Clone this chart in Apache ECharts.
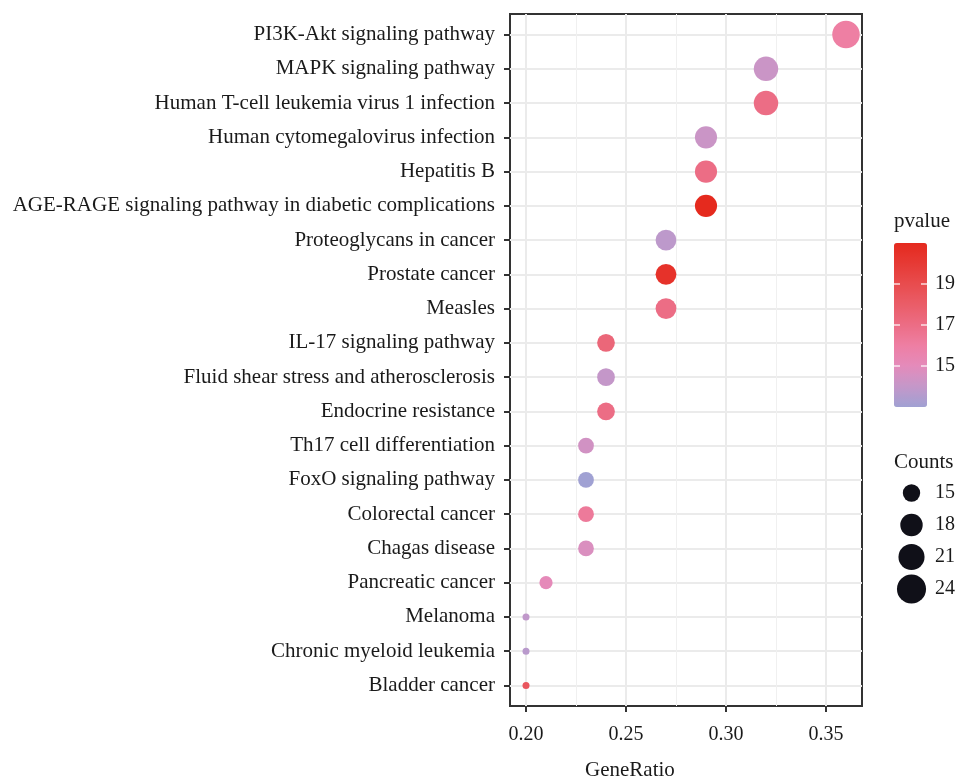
<!DOCTYPE html>
<html>
<head>
<meta charset="utf-8">
<title>KEGG enrichment dot plot</title>
<script src="https://cdn.jsdelivr.net/npm/echarts@6/dist/echarts.min.js"></script>
<style>
  html, body { margin: 0; padding: 0; background: #ffffff; }
  #chart { width: 960px; height: 779px; }
</style>
</head>
<body>
<div id="chart"></div>
<script>
// Enriched pathways, listed top to bottom
const categories = [
  'PI3K-Akt signaling pathway',
  'MAPK signaling pathway',
  'Human T-cell leukemia virus 1 infection',
  'Human cytomegalovirus infection',
  'Hepatitis B',
  'AGE-RAGE signaling pathway in diabetic complications',
  'Proteoglycans in cancer',
  'Prostate cancer',
  'Measles',
  'IL-17 signaling pathway',
  'Fluid shear stress and atherosclerosis',
  'Endocrine resistance',
  'Th17 cell differentiation',
  'FoxO signaling pathway',
  'Colorectal cancer',
  'Chagas disease',
  'Pancreatic cancer',
  'Melanoma',
  'Chronic myeloid leukemia',
  'Bladder cancer'
];
const geneRatio = [0.36, 0.32, 0.32, 0.29, 0.29, 0.29, 0.27, 0.27, 0.27, 0.24,
                   0.24, 0.24, 0.23, 0.23, 0.23, 0.23, 0.21, 0.20, 0.20, 0.20];
const counts    = [24, 21, 21, 19, 19, 19, 18, 18, 18, 16,
                   16, 16, 15, 15, 15, 15, 14, 13, 13, 13];
const pvalue    = [16.0, 14.2, 17.0, 14.2, 17.0, 21.0, 13.8, 20.5, 17.0, 17.4,
                   14.0, 17.0, 14.4, 13.0, 16.3, 14.7, 15.1, 13.9, 13.7, 18.4];

const xTicks = [0.20, 0.25, 0.30, 0.35];
const xMinorTicks = [0.225, 0.275, 0.325];
const colorTicks = [19, 17, 15];
const sizeTicks = [15, 18, 21, 24];
const colorStops = ['#a0a1d3', '#c497c9', '#e48bbb', '#ee7fa3', '#ec6d85',
                    '#ea5d68', '#e84c4e', '#e63a35', '#e52a1e'];

const FONT = "'Liberation Serif', 'DejaVu Serif', serif";
const TEXT = '#1a1a1a';
const W = 960, H = 779;

// panel frame
const panel = { left: 510, right: 862, top: 14, bottom: 706 };
// discrete y scale expanded by 0.6 of a step on each side
const yExpand = 0.6;
const step = (panel.bottom - panel.top) / (categories.length - 1 + 2 * yExpand);
const innerTop = panel.top + yExpand * step;
const innerBottom = panel.bottom - yExpand * step;
// continuous x scale expanded by 5% of the data range
const xr = Math.max(...geneRatio) - Math.min(...geneRatio);
const xMin = Math.min(...geneRatio) - 0.05 * xr;
const xMax = Math.max(...geneRatio) + 0.05 * xr;

// point diameter: area-style scaling between the smallest and largest count
const cMin = Math.min(...counts), cMax = Math.max(...counts);
function sizeOf(c) {
  return 7 + 20.5 * Math.sqrt((c - cMin) / (cMax - cMin));
}

const cLo = 13, cHi = 21;
const points = geneRatio.map((g, i) => [g, i, counts[i], pvalue[i]]);

// colour bar geometry
const bar = { left: 894, top: 243, width: 33, height: 164 };
const barY = v => bar.top + (cHi - v) / (cHi - cLo) * bar.height;

const graphics = [];
graphics.push({ type: 'text', left: 894, top: 211,
  style: { text: 'pvalue', font: '21px ' + FONT, fill: TEXT } });
colorTicks.forEach(v => {
  const y = barY(v);
  graphics.push({ type: 'line', shape: { x1: bar.left, y1: y, x2: bar.left + 6, y2: y },
    style: { stroke: '#ffffff', lineWidth: 1.2 }, z: 100 });
  graphics.push({ type: 'line', shape: { x1: bar.left + bar.width - 6, y1: y, x2: bar.left + bar.width, y2: y },
    style: { stroke: '#ffffff', lineWidth: 1.2 }, z: 100 });
  graphics.push({ type: 'text', x: 935, y: y,
    style: { text: String(v), font: '20px ' + FONT, fill: TEXT, verticalAlign: 'middle' } });
});
graphics.push({ type: 'text', left: 894, top: 452,
  style: { text: 'Counts', font: '21px ' + FONT, fill: TEXT } });
sizeTicks.forEach((c, k) => {
  const cy = 493 + k * 32;
  graphics.push({ type: 'circle', shape: { cx: 911.5, cy: cy, r: sizeOf(c) / 2 + 0.8 },
    style: { fill: '#101018' } });
  graphics.push({ type: 'text', x: 935, y: cy,
    style: { text: String(c), font: '20px ' + FONT, fill: TEXT, verticalAlign: 'middle' } });
});
graphics.push({ type: 'text', left: 585, top: 760,
  style: { text: 'GeneRatio', font: '21px ' + FONT, fill: TEXT } });

const chart = echarts.init(document.getElementById('chart'), null, { renderer: 'canvas' });

chart.setOption({
  backgroundColor: '#ffffff',
  animation: false,
  grid: [
    { // full panel: frame and vertical grid lines
      left: panel.left, right: W - panel.right, top: panel.top, bottom: H - panel.bottom,
      show: true, borderColor: '#333333', borderWidth: 2, backgroundColor: 'transparent'
    },
    { // category rows
      left: panel.left, right: W - panel.right, top: innerTop, bottom: H - innerBottom,
      show: false
    }
  ],
  xAxis: [
    {
      gridIndex: 0, type: 'value', min: xMin, max: xMax,
      axisLine: { show: false },
      axisTick: { show: true, customValues: xTicks, length: 6, inside: false,
                  lineStyle: { color: '#333333', width: 2 } },
      axisLabel: { customValues: xTicks, margin: 19, fontFamily: FONT, fontSize: 20, color: TEXT,
                   formatter: v => v.toFixed(2) },
      splitLine: { show: true, lineStyle: { color: '#ebebeb', width: 2 } }
    },
    {
      gridIndex: 0, type: 'value', min: xMin, max: xMax, position: 'top',
      axisLine: { show: false },
      axisTick: { show: false, customValues: xMinorTicks },
      axisLabel: { show: false },
      splitLine: { show: true, lineStyle: { color: '#f0f0f0', width: 1 } }
    },
    {
      gridIndex: 1, type: 'value', min: xMin, max: xMax, show: false,
      splitLine: { show: false }
    }
  ],
  yAxis: [
    { gridIndex: 0, type: 'value', min: 0, max: 1, show: false, splitLine: { show: false } },
    {
      gridIndex: 1, type: 'value', inverse: true, min: 0, max: categories.length - 1, interval: 1,
      axisLine: { show: false },
      axisTick: { show: true, length: 6, lineStyle: { color: '#333333', width: 2 } },
      axisLabel: { margin: 15, fontFamily: FONT, fontSize: 21, color: TEXT,
                   formatter: v => categories[v] || '' },
      splitLine: { show: true, lineStyle: { color: '#ebebeb', width: 2 } }
    }
  ],
  visualMap: {
    type: 'continuous', seriesIndex: 0, dimension: 3,
    min: cLo, max: cHi, calculable: false, hoverLink: false,
    left: bar.left, top: bar.top, itemWidth: bar.width, itemHeight: bar.height,
    padding: 0, text: null, showLabel: false,
    inRange: { color: colorStops }
  },
  series: [{
    type: 'scatter', xAxisIndex: 2, yAxisIndex: 1,
    data: points,
    symbol: 'circle',
    symbolSize: d => sizeOf(d[2]),
    itemStyle: { opacity: 1 },
    z: 5
  }],
  graphic: graphics
});
</script>
</body>
</html>
